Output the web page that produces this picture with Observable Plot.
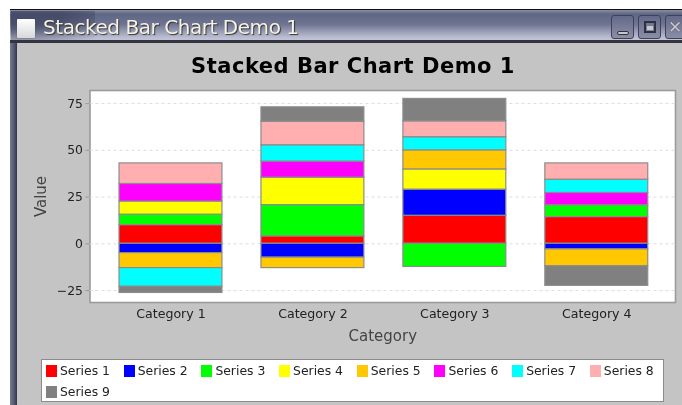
<!DOCTYPE html>
<html><head><meta charset="utf-8">
<script src="https://cdn.jsdelivr.net/npm/d3@7"></script>
<script src="https://cdn.jsdelivr.net/npm/@observablehq/plot@0.6"></script>
<style>
html,body{margin:0;padding:0;background:#fff;overflow:hidden}
body{width:682px;height:405px;position:relative;font-family:"DejaVu Sans",sans-serif;filter:blur(.3px)}
.win{position:absolute;left:10px;top:9px;width:672px;height:396px;background:#c4c4c4;border-top:1px solid #111;box-sizing:border-box}
.bar{position:absolute;left:0;top:0;right:0;height:33px;background:linear-gradient(#8a8ea6 0,#5f6785 4px,#6d7390 14px,#b9bccf 27px,#c2c4d6 30px,#33343f 30px,#33343f 33px)}
.barshade{position:absolute;left:1px;top:1px;width:84px;height:29px;background:radial-gradient(ellipse at 0 0,#2f3450 45%,rgba(47,52,80,0) 100%);opacity:.55}
.side{position:absolute;left:0;top:33px;bottom:0;width:7px;background:linear-gradient(90deg,#777b92,#4c4f68 70%,#33343f)}
.doc{position:absolute;left:7px;top:9px;width:18px;height:19px;background:linear-gradient(#fff,#d8d8d8);border-radius:1px;box-shadow:0 0 1px #333}
.wt{position:absolute;left:33px;top:5px;font:20px "DejaVu Sans";letter-spacing:-.45px;color:#f6f2e6;text-shadow:1px 1px 1px #333;white-space:nowrap}
.btn{position:absolute;top:5px;width:23px;height:24px;border:1px solid #3f4256;border-radius:3px;box-sizing:border-box;background:linear-gradient(#64698a,#8b8ea6)}
.btn i{position:absolute;display:block;box-sizing:border-box}
.btn .min{left:5px;top:15px;width:12px;height:4px;border-radius:2px;background:#c8c8d0;border:1px solid #333}
.btn .max{left:5px;top:5px;width:12px;height:12px;border:2px solid #2f3040}
.btn .max2{left:8px;top:10px;width:6px;height:4px;background:#c8c8d0}
.btn .cls{left:2px;top:0;font:normal 17px/22px "DejaVu Sans";color:#c8c8d0;text-shadow:0 0 1px #222}
.title{position:absolute;left:17px;width:672px;top:53.5px;text-align:center;font:bold 21px "DejaVu Sans";letter-spacing:.5px;color:#000;white-space:nowrap}
#chart{position:absolute;left:17px;top:80px}
.legend{position:absolute;left:41px;top:359px;width:623px;height:43px;background:#fff;border:1px solid #8c8c8c;box-sizing:border-box;display:grid;grid-template-columns:repeat(8,77.7px);grid-auto-rows:21px;padding:0 0 0 4px;font:12.4px "DejaVu Sans";color:#222}
.item{display:flex;align-items:center;white-space:nowrap}
.sw{width:11px;height:12px;margin-right:3px;display:inline-block}
</style></head><body>
<div class="win">
  <div class="bar"></div><div class="barshade"></div><div class="side"></div>
  <div class="doc"></div>
  <div class="wt">Stacked Bar Chart Demo 1</div>
  <div class="btn" style="left:601px"><i class="min"></i></div>
  <div class="btn" style="left:628px"><i class="max"></i><i class="max2"></i></div>
  <div class="btn" style="left:655px"><i class="cls">✕</i></div>
</div>
<div class="title">Stacked Bar Chart Demo 1</div>
<div id="chart"></div>
<div class="legend" id="legend"></div>
<script>
const categories = ["Category 1","Category 2","Category 3","Category 4"];
const seriesNames = ["Series 1","Series 2","Series 3","Series 4","Series 5","Series 6","Series 7","Series 8","Series 9"];
const seriesColors = ["#ff0000","#0000ff","#00ff00","#ffff00","#ffc800","#ff00ff","#00ffff","#ffafaf","#808080"];
const series1 = [10, 4, 15, 14.3];
const series2 = [-5, -7.4, 14, -3];
const series3 = [5.6, 16.7, -12.4, 6.3];
const series4 = [7, 14.7, 10.8, 0];
const series5 = [-8, -5.6, 10.2, -9];
const series6 = [9.4, 8.6, 0, 6.6];
const series7 = [-10, 8.7, 7, 7.1];
const series8 = [11, 12.6, 8.5, 8.7];
const series9 = [-3.3, 7.7, 12, -10.5];
const valueTicks = [-25, 0, 25, 50, 75];

const allSeries = [series1,series2,series3,series4,series5,series6,series7,series8,series9];
const rows = allSeries.flatMap((vals,s)=>vals.map((v,c)=>({category:categories[c],series:seriesNames[s],value:v})));

const textColor = "#222";
const chart = Plot.plot({
  width:665, height:270,
  marginLeft:72.5, marginRight:7, marginTop:10, marginBottom:48,
  style:{background:"transparent",fontFamily:"DejaVu Sans",fontSize:"12px",color:textColor},
  x:{domain:categories,paddingInner:0.275,paddingOuter:0.2,align:0.52,round:false,label:null},
  y:{domain:[-31.4,82],label:null},
  color:{domain:seriesNames,range:seriesColors},
  marks:[
    Plot.frame({fill:"#fff",stroke:"#9a9a9a",strokeWidth:1.6}),
    Plot.ruleY(valueTicks,{stroke:"#dcdcdc",strokeDasharray:"3,3"}),
    Plot.barY(rows.filter(d=>d.value!==0),{x:"category",y:"value",fill:"series",stroke:"#8c8c8c",strokeWidth:1.2,order:null}),
    Plot.axisX({tickSize:0,tickPadding:7,label:null,fontSize:12.6}),
    Plot.axisY({ticks:valueTicks,tickSize:4,tickPadding:3,label:null,fontSize:12.4,stroke:"#999"}),
    Plot.axisY({ticks:[],label:"Value",labelAnchor:"center",labelArrow:"none",labelOffset:55,fontSize:15,fill:"#444"}),
    Plot.axisX({ticks:[],label:"Category",labelAnchor:"center",labelArrow:"none",labelOffset:38,fontSize:15,fill:"#444"})
  ]
});
document.getElementById("chart").append(chart);

const lg = document.getElementById("legend");
seriesNames.forEach((n,i)=>{
  const it=document.createElement("div");it.className="item";
  const sw=document.createElement("span");sw.className="sw";sw.style.background=seriesColors[i];
  it.append(sw,document.createTextNode(n));lg.append(it);
});
</script>
</body></html>
